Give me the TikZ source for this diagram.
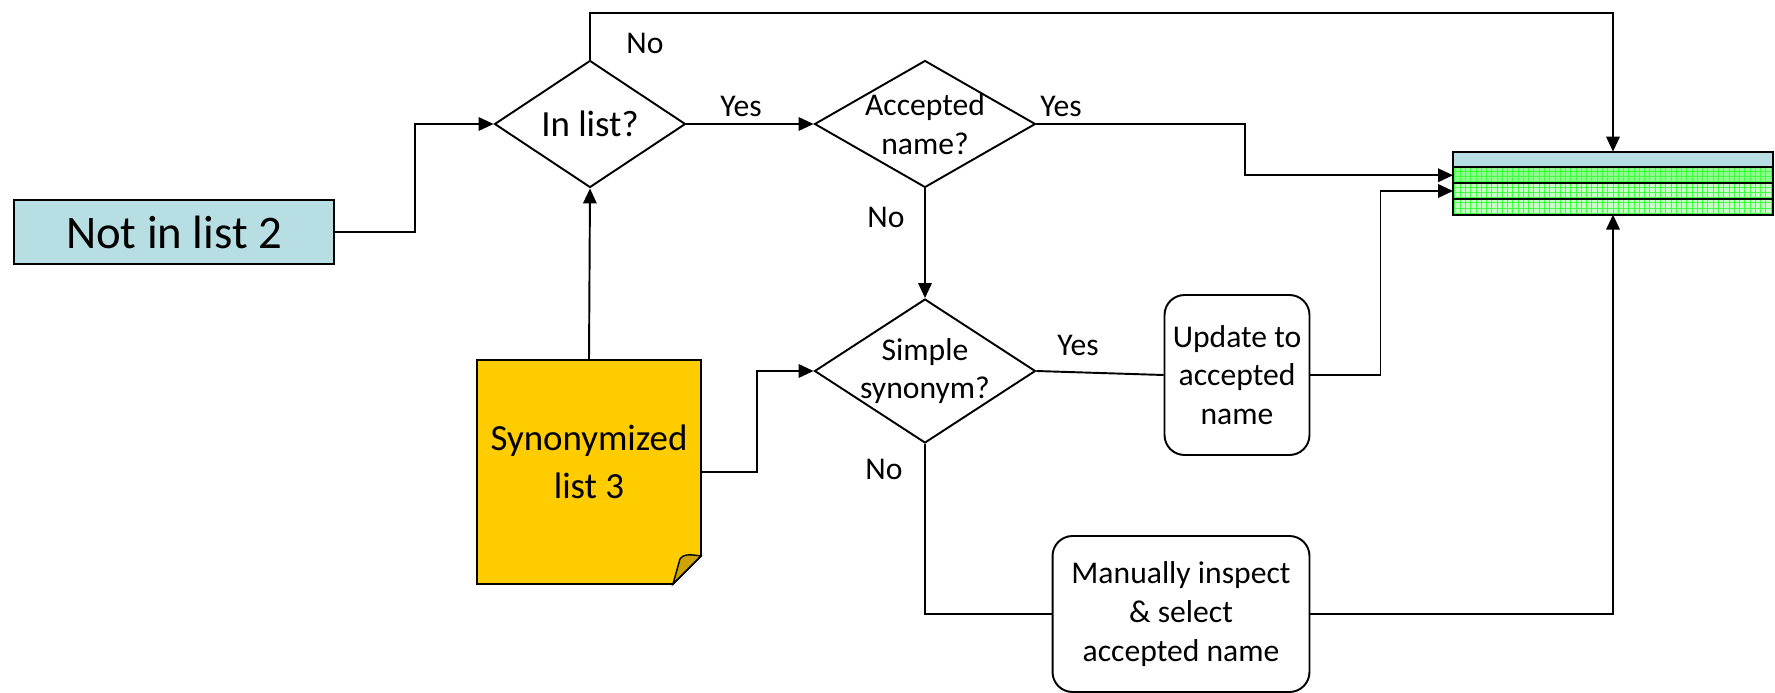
\documentclass[tikz,border=0pt]{standalone}
\usepackage{fontspec}
\setmainfont{Carlito}
\usetikzlibrary{shapes.geometric,arrows.meta,positioning,calc,patterns,backgrounds}
\definecolor{boxblue}{RGB}{183,222,226}
\definecolor{notegold}{RGB}{255,204,0}
\definecolor{foldgold}{RGB}{204,163,0}
\tikzset{
  plain/.style={line width=1.1pt},
  link/.style={plain, -{Triangle[length=0.3cm,width=0.27cm]}},
  decision/.style={diamond, draw, plain, inner sep=0pt},
  dtext/.style={font=\fontsize{18}{22}\selectfont, align=center},
  procbox/.style={draw, plain, rounded corners=0.4cm, align=center, font=\fontsize{18}{22}\selectfont},
  lbl/.style={font=\fontsize{18}{22}\selectfont},
  rowbox/.style={draw, plain, minimum width=6.4cm, minimum height=0.315cm, inner sep=0pt, outer sep=0pt},
  greenrow/.style={preaction={fill=#1}, pattern=grid, pattern color=green!75}
}
\begin{document}
\begin{tikzpicture}[x=0.02cm, y=-0.02cm]
  \useasboundingbox (0,0) rectangle (1775,693);

  % inputs
  \node[draw, plain, fill=boxblue, minimum width=6.4cm, minimum height=1.28cm,
        font=\fontsize{26.6}{32}\selectfont] (notin) at (174,232) {Not in list 2};
  \node[minimum width=4.48cm, minimum height=4.48cm, inner sep=0pt, outer sep=0pt,
        label={[font=\fontsize{21}{27}\selectfont, align=center, yshift=0.2cm]center:{Synonymized\\list 3}}] (note) at (589,472) {};
  \begin{scope}[on background layer]
    \filldraw[plain, fill=notegold] (note.north west) -- (note.north east)
      -- ($(note.south east)+(0,-28)$) -- ($(note.south east)+(-28,0)$) -- (note.south west) -- cycle;
    \filldraw[line width=0.8pt, fill=foldgold] ($(note.south east)+(-28,0)$) -- ($(note.south east)+(-21,-25)$)
      .. controls ($(note.south east)+(-17,-31)$) and ($(note.south east)+(-8,-29)$) .. ($(note.south east)+(0,-28)$) -- cycle;
  \end{scope}

  % decisions
  \node[decision, minimum width=3.82cm, minimum height=2.54cm,
        label={[font=\fontsize{21}{27}\selectfont]center:In list?}] (inlist) at (590,124) {};
  \node[decision, minimum width=4.42cm, minimum height=2.54cm,
        label={[dtext]center:{Accepted\\name?}}] (acc) at (925,124) {};
  \node[decision, minimum width=4.42cm, minimum height=2.88cm,
        label={[dtext]center:{Simple\\synonym?}}] (simple) at (925,371) {};

  % actions
  \node[procbox, minimum width=2.9cm, minimum height=3.2cm] (upd) at (1237,375) {Update to\\accepted\\name};
  \node[procbox, minimum width=5.14cm, minimum height=3.12cm] (man) at (1181,614) {Manually inspect\\\& select\\accepted name};

  % result table
  \node[rowbox, fill=boxblue] (row1) at (1613,159.5) {};
  \node[rowbox, greenrow=green!45, below=0pt of row1] (row2) {};
  \node[rowbox, greenrow=green!22, below=0pt of row2] (row3) {};
  \node[rowbox, greenrow=green!22, below=0pt of row3] (row4) {};

  % connectors
  \draw[link] (notin.east) -- ++(80,0) |- (inlist.west);
  \draw[link] (inlist.north) -- ++(0,-47) -| (row1.north);
  \draw[link] (inlist.east) -- (acc.west);
  \draw[link] (acc.east) -- ++(209,0) |- (row2.west);
  \draw[link] (acc.south) -- (simple.north);
  \draw[link] (note.north) -- (inlist.south);
  \draw[link] (note.east) -- ++(56,0) |- (simple.west);
  \draw[plain] (simple.east) -- (upd.west);
  \draw[link] (upd.east) -- ++(70,0) |- (row3.west);
  \draw[plain] (simple.south) |- (man.west);
  \draw[link] (man.east) -| (row4.south);

  % branch labels
  \node[lbl] (no1) at (645,43) {No};
  \node[lbl] (yes1) at (741,106) {Yes};
  \node[lbl] (yes2) at (1061,106) {Yes};
  \node[lbl] (no2) at (886,217) {No};
  \node[lbl] (yes3) at (1078,345) {Yes};
  \node[lbl] (no3) at (884,469) {No};
\end{tikzpicture}
\end{document}
